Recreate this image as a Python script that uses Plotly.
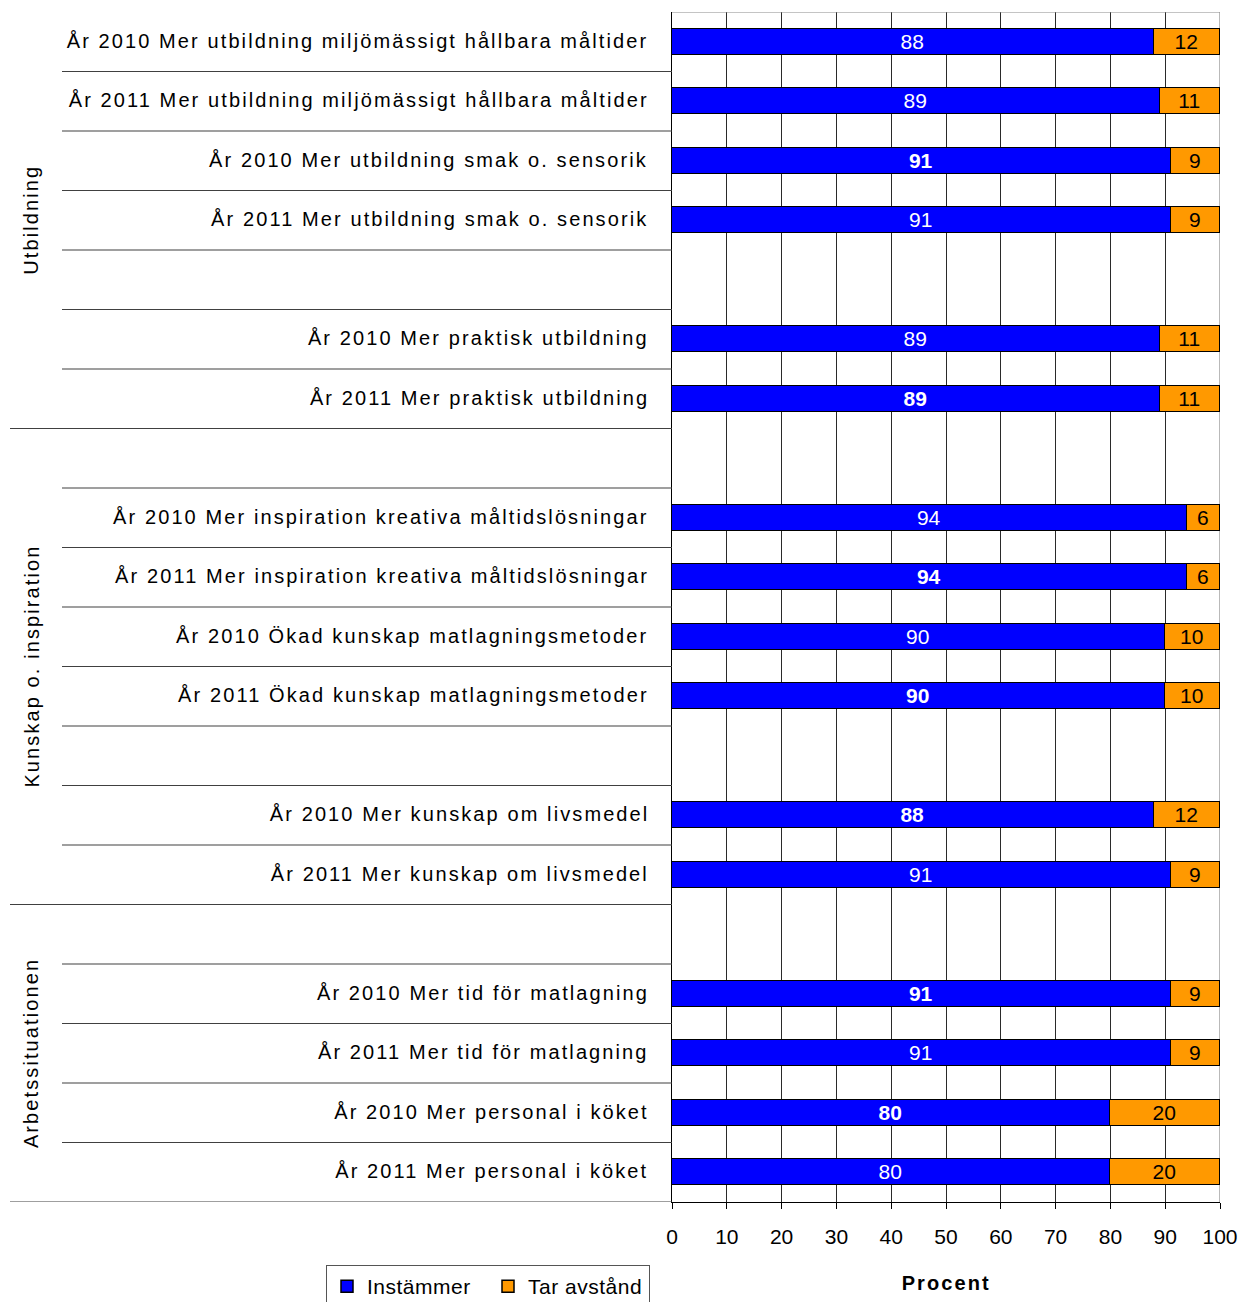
import plotly.graph_objects as go

# Survey statements (blank entries are spacer rows between themes)
statements = [
    "År 2010 Mer utbildning miljömässigt hållbara måltider",
    "År 2011 Mer utbildning miljömässigt hållbara måltider",
    "År 2010 Mer utbildning smak o. sensorik",
    "År 2011 Mer utbildning smak o. sensorik",
    "",
    "År 2010 Mer praktisk utbildning",
    "År 2011 Mer praktisk utbildning",
    "",
    "År 2010 Mer inspiration kreativa måltidslösningar",
    "År 2011 Mer inspiration kreativa måltidslösningar",
    "År 2010 Ökad kunskap matlagningsmetoder",
    "År 2011 Ökad kunskap matlagningsmetoder",
    "",
    "År 2010 Mer kunskap om livsmedel",
    "År 2011 Mer kunskap om livsmedel",
    "",
    "År 2010 Mer tid för matlagning",
    "År 2011 Mer tid för matlagning",
    "År 2010 Mer personal i köket",
    "År 2011 Mer personal i köket",
]
instammer = [88, 89, 91, 91, None, 89, 89, None, 94, 94, 90, 90, None, 88, 91, None, 91, 91, 80, 80]
tar_avstand = [12, 11, 9, 9, None, 11, 11, None, 6, 6, 10, 10, None, 12, 9, None, 9, 9, 20, 20]
bold_label = [False, False, True, False, False, False, True, False, False, True,
              False, True, False, True, False, False, True, False, True, False]

themes = ["Utbildning", "Kunskap o. inspiration", "Arbetssituationen"]
theme_rows = [(0, 6), (7, 14), (15, 19)]

series_names = ["Instämmer", "Tar avstånd"]
x_ticks = [0, 10, 20, 30, 40, 50, 60, 70, 80, 90, 100]

W, H = 1244, 1302
FONT = "Liberation Sans, Arial, sans-serif"
X0, X1 = 672 / W, 1220 / W
Y0, Y1 = 1 - 1202 / H, 1 - 12 / H

rows = list(range(len(statements)))


def fmt(v, b):
    if v is None:
        return ""
    return f"<b>{v}</b>" if b else str(v)


fig = go.Figure()
fig.add_trace(go.Bar(
    name=series_names[0], orientation="h", y=rows, x=instammer, width=0.43,
    marker=dict(color="#0000FF", line=dict(color="black", width=1.5)),
    text=[fmt(v, b) for v, b in zip(instammer, bold_label)],
    textposition="inside", insidetextanchor="middle", constraintext="none",
    textangle=0,
    textfont=dict(color="white", size=21, family=FONT),
    hoverinfo="skip",
))
fig.add_trace(go.Bar(
    name=series_names[1], orientation="h", y=rows, x=tar_avstand, width=0.43,
    marker=dict(color="#FF9900", line=dict(color="black", width=1.5)),
    text=[fmt(v, False) for v in tar_avstand],
    textposition="inside", insidetextanchor="middle", constraintext="none",
    textangle=0,
    textfont=dict(color="black", size=21, family=FONT),
    hoverinfo="skip",
))

shapes = []
# table rules between statements; full-width rules at theme boundaries
theme_ends = {end for _, end in theme_rows}
for i in range(len(statements)):
    yb = i + 0.5
    start = 10 / W if i in theme_ends else 62 / W
    shapes.append(dict(type="line", xref="paper", yref="y", x0=start, x1=X0,
                       y0=yb, y1=yb, line=dict(color="#404040", width=1.2)))
# top and right frame of the plot area
shapes.append(dict(type="line", xref="x", yref="y", x0=0, x1=100, y0=-0.5, y1=-0.5,
                   line=dict(color="#8a8a8a", width=1.2), layer="above"))
shapes.append(dict(type="line", xref="x", yref="y", x0=100, x1=100, y0=-0.5, y1=19.5,
                   line=dict(color="#8a8a8a", width=1.2), layer="below"))

annotations = []
for i, s in enumerate(statements):
    if s:
        annotations.append(dict(text=s, xref="paper", yref="y", x=651 / W, y=i,
                                xanchor="right", yanchor="middle", align="right", yshift=1,
                                showarrow=False,
                                font=dict(size=20, color="black", family=FONT)))
for name, (a, b) in zip(themes, theme_rows):
    annotations.append(dict(text=name, xref="paper", yref="y", x=31 / W, y=(a + b) / 2,
                            xanchor="center", yanchor="middle", textangle=-90,
                            showarrow=False,
                            font=dict(size=20, color="black", family=FONT)))
annotations.append(dict(text="<b>Procent</b>", xref="paper", yref="paper",
                        x=(X0 + X1) / 2, y=1 - 1283 / H, xanchor="center", yanchor="middle",
                        showarrow=False, font=dict(size=20, color="black", family=FONT)))

fig.update_layout(
    width=W, height=H,
    margin=dict(l=0, r=0, t=0, b=0, autoexpand=False),
    paper_bgcolor="white", plot_bgcolor="white",
    barmode="stack", bargap=0,
    font=dict(family=FONT, size=21, color="black"),
    shapes=shapes, annotations=annotations,
    showlegend=True,
    legend=dict(orientation="h", x=326 / W, y=1 - 1265 / H, xanchor="left", yanchor="top",
                bordercolor="#555555", borderwidth=1, bgcolor="white",
                font=dict(size=21, family=FONT), traceorder="normal",
                itemwidth=30, entrywidth=116, entrywidthmode="pixels"),
    xaxis=dict(domain=[X0, X1], range=[0, 100], tickvals=x_ticks, ticks="outside",
               ticklen=6, tickcolor="black", showgrid=True, gridcolor="#2a2a2a",
               gridwidth=1, showline=True, linecolor="black", linewidth=1.2,
               zeroline=False, ticklabelstandoff=10, automargin=False,
               tickfont=dict(size=21, family=FONT, color="black"), fixedrange=True),
    yaxis=dict(domain=[Y0, Y1], range=[19.5, -0.5], showticklabels=False,
               showgrid=False, zeroline=False, showline=True, linecolor="black",
               linewidth=1.2, ticks="", automargin=False, fixedrange=True),
)

# Letter-spaced labels, as in the printed report
spacing_js = """
var st = document.createElement('style');
st.textContent = '.annotation-text { letter-spacing: 2.1px; } .legendtext { letter-spacing: 0.5px; }';
document.head.appendChild(st);
"""

fig.write_html("out.html", post_script=spacing_js)
